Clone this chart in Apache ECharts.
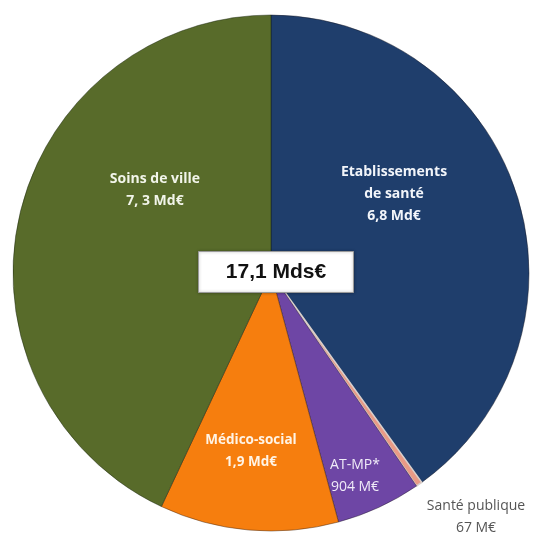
<!DOCTYPE html>
<html>
<head>
<meta charset="utf-8">
<script src="https://cdn.jsdelivr.net/npm/echarts@6/dist/echarts.min.js"></script>
<style>html,body{margin:0;padding:0;background:#fff}#c{width:534px;height:535px}</style>
</head>
<body>
<div id="c"></div>
<script>
const categories = ['Etablissements\nde santé', 'Santé publique', 'AT-MP*', 'Médico-social', 'Soins de ville'];
const valueLabels = ['6,8 Md€', '67 M€', '904 M€', '1,9 Md€', '7, 3 Md€'];
const values = [6.8, 0.067, 0.904, 1.9, 7.3];
const totalLabel = '17,1 Mds€';

const colors = ['#1F3E6C', '#E99A86', '#6E46A5', '#F67E0E', '#586B2A'];
const borderColors = ['rgba(20,20,30,0.45)', '#D9CFCB', 'rgba(30,20,40,0.45)', 'rgba(60,30,10,0.45)', 'rgba(20,30,10,0.45)'];
const borderWidths = [1, 1.6, 1, 1, 1];
const labelPos = [[394, 194], [476, 517], [355, 476], [251, 451], [155, 190]];
const labelColor = ['#F2F5FA', '#555555', '#F0ECF8', '#FFF4E6', '#F2F5EA'];
const labelBold = ['bold', 'normal', 'normal', 'bold', 'bold'];

const chart = echarts.init(document.getElementById('c'));
chart.setOption({
  animation: false,
  series: [{
    type: 'pie',
    center: [271, 273],
    radius: [0, 258],
    startAngle: 90,
    clockwise: true,
    z: 2,
    label: { show: true, position: 'inside', fontFamily: '"Open Sans"', fontSize: 14, lineHeight: 22 },
    labelLine: { show: false },
    emphasis: { disabled: true },
    labelLayout: function (p) {
      const pos = labelPos[p.dataIndex];
      return { x: pos[0], y: pos[1], align: 'center', verticalAlign: 'middle' };
    },
    data: categories.map(function (c, i) {
      return {
        name: c,
        value: values[i],
        itemStyle: { color: colors[i], borderColor: borderColors[i], borderWidth: borderWidths[i] },
        label: {
          formatter: c + '\n' + valueLabels[i],
          color: labelColor[i],
          fontWeight: labelBold[i],
          fontSize: i === 3 ? 13.5 : 14
        }
      };
    })
  }],
  graphic: [{
    type: 'group',
    left: 198, top: 251,
    z: 100,
    children: [
      { type: 'rect', z: 100, shape: { x: 0, y: 0, width: 155, height: 41 },
        style: { fill: '#fff', stroke: '#9a9a9a', lineWidth: 1, shadowBlur: 3, shadowColor: 'rgba(0,0,0,0.35)' } },
      { type: 'text', z: 101, x: 77.5, y: 21,
        style: { text: totalLabel, fill: '#111', font: 'bold 21px "Liberation Sans", Arial, sans-serif', textAlign: 'center', textVerticalAlign: 'middle' } }
    ]
  }]
});
</script>
</body>
</html>
